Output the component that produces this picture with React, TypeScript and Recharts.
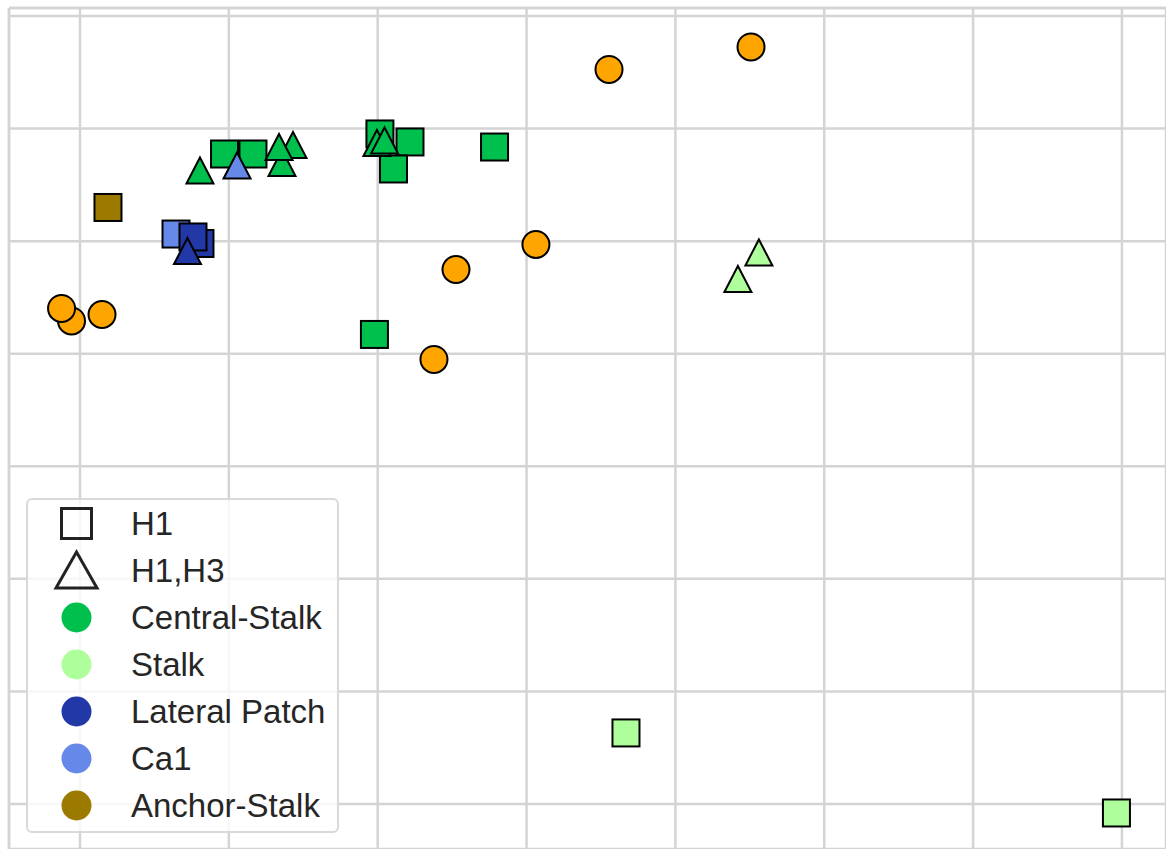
import {
  ScatterChart,
  Scatter,
  XAxis,
  YAxis,
  CartesianGrid,
  ReferenceLine,
  Legend,
} from "recharts";

type Pt = { x: number; y: number };

// embedding coordinates, grouped by region and marker type
const centralStalkH1: Pt[] = [
  { x: 0.971, y: 5.774 },
  { x: 1.162, y: 5.774 },
  { x: 2.015, y: 5.952 },
  { x: 2.217, y: 5.881 },
  { x: 2.106, y: 5.641 },
  { x: 2.785, y: 5.836 },
  { x: 1.978, y: 4.171 },
];
const centralStalkH1H3: Pt[] = [
  { x: 0.806, y: 5.628 },
  { x: 1.431, y: 5.854 },
  { x: 1.357, y: 5.694 },
  { x: 1.337, y: 5.836 },
  { x: 1.995, y: 5.872 },
  { x: 2.046, y: 5.894 },
];
const stalkH1: Pt[] = [
  { x: 3.668, y: 0.631 },
  { x: 6.963, y: -0.08 },
];
const stalkH1H3: Pt[] = [
  { x: 4.42, y: 4.664 },
  { x: 4.561, y: 4.899 },
];
const lateralPatchH1: Pt[] = [
  { x: 0.806, y: 4.979 },
  { x: 0.759, y: 5.037 },
];
const lateralPatchH1H3: Pt[] = [{ x: 0.722, y: 4.912 }];
const ca1H1: Pt[] = [{ x: 0.645, y: 5.063 }];
const ca1H1H3: Pt[] = [{ x: 1.055, y: 5.672 }];
const anchorStalkH1: Pt[] = [{ x: 0.188, y: 5.299 }];
const otherPoints: Pt[] = [
  { x: 3.554, y: 6.525 },
  { x: 4.508, y: 6.725 },
  { x: -0.057, y: 4.291 },
  { x: -0.124, y: 4.402 },
  { x: 0.148, y: 4.348 },
  { x: 2.526, y: 4.748 },
  { x: 3.063, y: 4.97 },
  { x: 2.378, y: 3.949 },
];

const xTicks = [0, 1, 2, 3, 4, 5, 6, 7];
const yTicks = [0, 1, 2, 3, 4, 5, 6, 7];
const xDomain = [-0.477, 7.296];
const yDomain = [-0.4, 7.071];

const shapeLabels = ["H1", "H1,H3"];
const regionLabels = ["Central-Stalk", "Stalk", "Lateral Patch", "Ca1", "Anchor-Stalk"];
const regionColors = ["#00c04d", "#aeff9c", "#2338a7", "#6689e9", "#9c7a00"];
const OTHER = "#ffa500";
const GRID = "#d4d4d4";

const Square = ({ cx, cy, fill }: any) => (
  <rect
    x={cx - 13.5}
    y={cy - 13.5}
    width={27}
    height={27}
    fill={fill}
    stroke="#000"
    strokeWidth={2}
  />
);

const Triangle = ({ cx, cy, fill }: any) => (
  <path
    d={`M${cx},${cy - 13} L${cx + 13.5},${cy + 13} L${cx - 13.5},${cy + 13} Z`}
    fill={fill}
    stroke="#000"
    strokeWidth={2}
  />
);

const Dot = ({ cx, cy, fill }: any) => (
  <circle cx={cx} cy={cy} r={13.5} fill={fill} stroke="#000" strokeWidth={2} />
);

const LegendBox = () => {
  const row = (marker: any, label: string) => (
    <div
      key={label}
      style={{ display: "flex", alignItems: "center", height: 47 }}
    >
      <svg width={100} height={47} style={{ flex: "none" }}>
        {marker}
      </svg>
      <span style={{ marginLeft: 3, whiteSpace: "nowrap" }}>{label}</span>
    </div>
  );
  return (
    <div
      style={{
        width: 309,
        height: 331,
        border: "2px solid #d9d9d9",
        borderRadius: 6,
        background: "rgba(255,255,255,0.8)",
        fontFamily: "'Liberation Sans', Arial, sans-serif",
        fontSize: 33,
        color: "#262626",
        boxSizing: "content-box",
      }}
    >
      {row(
        <rect x={33.5} y={8.5} width={30} height={30} fill="none" stroke="#222" strokeWidth={3} />,
        shapeLabels[0]
      )}
      {row(
        <path d="M48.5,5 L69,41 L28,41 Z" fill="none" stroke="#222" strokeWidth={3} />,
        shapeLabels[1]
      )}
      {regionLabels.map((label, i) =>
        row(<circle cx={48.5} cy={23.5} r={15} fill={regionColors[i]} />, label)
      )}
    </div>
  );
};

export default function App() {
  return (
    <div style={{ position: "absolute", left: 0, top: 0, background: "#fff" }}>
      <ScatterChart
        width={1166}
        height={849}
        margin={{ top: 8, right: 0, bottom: 0, left: 9 }}
      >
        <CartesianGrid stroke={GRID} strokeWidth={2.5} />
        <XAxis
          type="number"
          dataKey="x"
          domain={xDomain}
          ticks={xTicks}
          allowDataOverflow
          hide
        />
        <YAxis
          type="number"
          dataKey="y"
          domain={yDomain}
          ticks={yTicks}
          allowDataOverflow
          hide
        />
        <ReferenceLine x={xDomain[0]} stroke={GRID} strokeWidth={2.5} />
        <ReferenceLine y={yDomain[1]} stroke={GRID} strokeWidth={2.5} />

        <Scatter data={centralStalkH1} fill={regionColors[0]} shape={Square} isAnimationActive={false} />
        <Scatter data={stalkH1} fill={regionColors[1]} shape={Square} isAnimationActive={false} />
        <Scatter data={ca1H1} fill={regionColors[3]} shape={Square} isAnimationActive={false} />
        <Scatter data={lateralPatchH1} fill={regionColors[2]} shape={Square} isAnimationActive={false} />
        <Scatter data={anchorStalkH1} fill={regionColors[4]} shape={Square} isAnimationActive={false} />

        <Scatter data={centralStalkH1H3} fill={regionColors[0]} shape={Triangle} isAnimationActive={false} />
        <Scatter data={stalkH1H3} fill={regionColors[1]} shape={Triangle} isAnimationActive={false} />
        <Scatter data={lateralPatchH1H3} fill={regionColors[2]} shape={Triangle} isAnimationActive={false} />
        <Scatter data={ca1H1H3} fill={regionColors[3]} shape={Triangle} isAnimationActive={false} />

        <Scatter data={otherPoints} fill={OTHER} shape={Dot} isAnimationActive={false} />

        <Legend
          layout="vertical"
          align="center"
          verticalAlign="middle"
          content={<LegendBox />}
          wrapperStyle={{ left: 26, top: 498, width: "auto" }}
        />
      </ScatterChart>
    </div>
  );
}
